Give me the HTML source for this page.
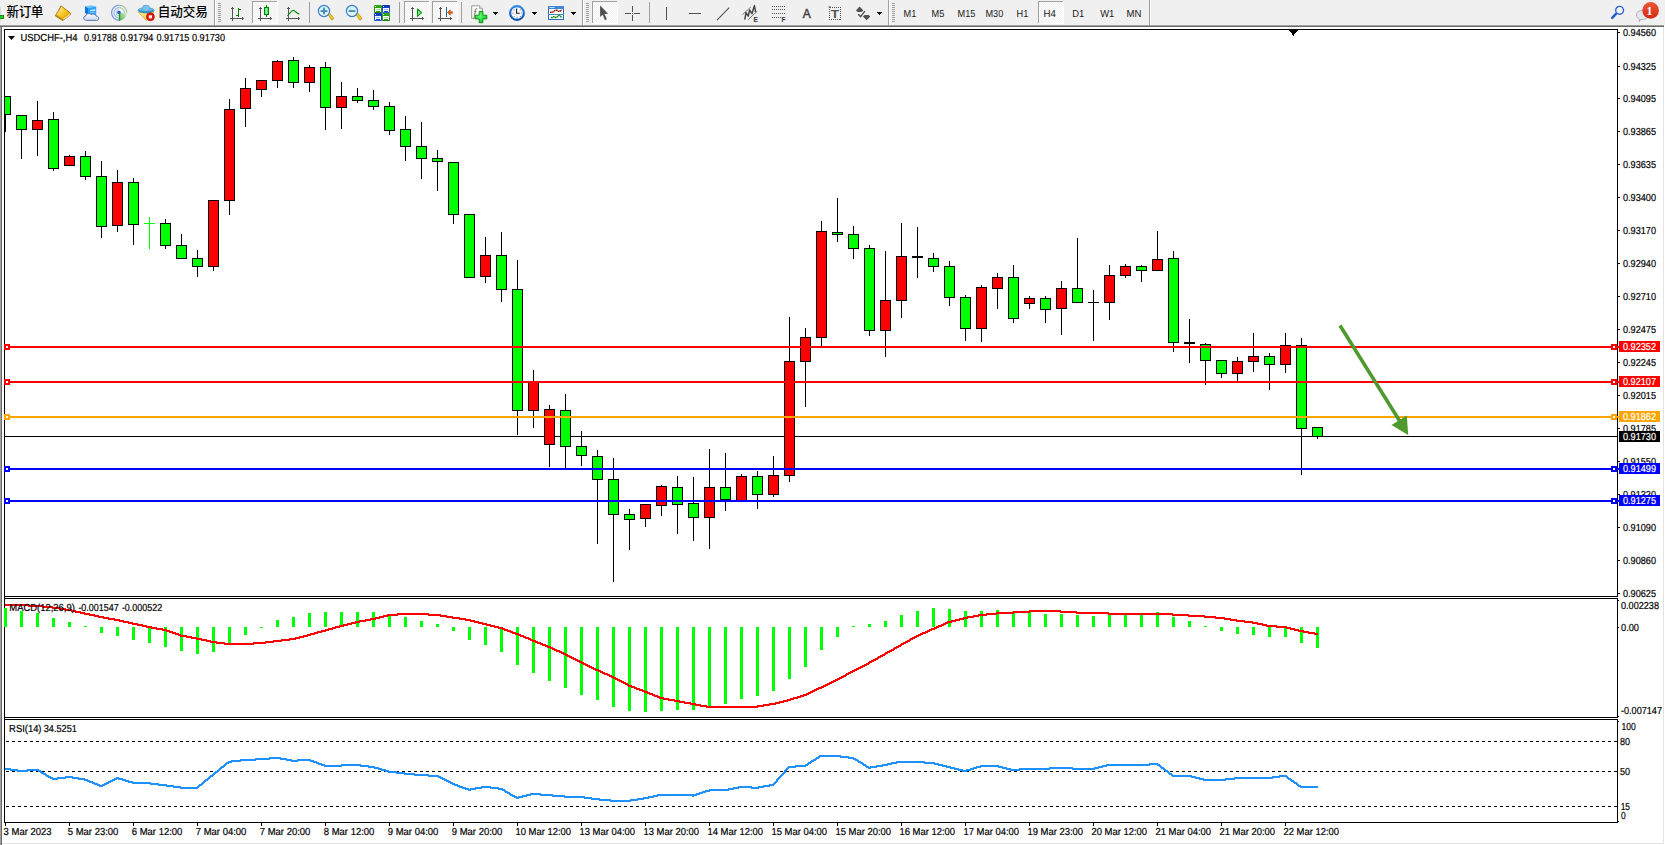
<!DOCTYPE html>
<html><head><meta charset="utf-8"><title>USDCHF-,H4</title>
<style>
html,body{margin:0;padding:0;background:#fff;}
body{width:1665px;height:845px;overflow:hidden;position:relative;font-family:"Liberation Sans","Noto Sans CJK SC",sans-serif;}
#tb{position:absolute;left:0;top:0;width:1665px;height:25px;background:#f0f0f0;}
svg{position:absolute;left:0;top:0;}
.t{font-family:"Liberation Sans",sans-serif;font-size:10.2px;fill:#000;stroke:#000;stroke-width:0.2px;text-rendering:geometricPrecision;}
.w{fill:#fff;stroke:#fff;}
.cj{font-family:"Liberation Sans","Noto Sans CJK SC",sans-serif;font-size:12.6px;font-weight:500;fill:#000;}
.tf{font-family:"Liberation Sans",sans-serif;font-size:10.2px;fill:#222;text-rendering:geometricPrecision;}
</style></head><body>
<div id="tb"></div>
<svg id="chart" width="1665" height="845" viewBox="0 0 1665 845">
<g shape-rendering="crispEdges">
<rect x="0" y="25" width="1664" height="1" fill="#a0a0a0"/>
<rect x="0" y="26" width="1664" height="1" fill="#696969"/>
<rect x="0" y="27" width="1" height="818" fill="#a0a0a0"/>
<rect x="1" y="27" width="1" height="818" fill="#696969"/>
<rect x="1663" y="27" width="1" height="817" fill="#e3e3e3"/>
<rect x="0" y="843" width="1664" height="1" fill="#e3e3e3"/>
<rect x="4" y="29" width="1614" height="1" fill="#000"/>
<rect x="4" y="29" width="1" height="794" fill="#000"/>
<rect x="1617" y="29" width="1" height="794" fill="#000"/>
<rect x="4" y="596" width="1614" height="1" fill="#000"/>
<rect x="4" y="598" width="1614" height="1" fill="#000"/>
<rect x="4" y="717" width="1614" height="1" fill="#000"/>
<rect x="4" y="719" width="1614" height="1" fill="#000"/>
<rect x="4" y="822" width="1614" height="1" fill="#000"/>
<rect x="5" y="597" width="1612" height="1" fill="#fff"/>
<rect x="5" y="718" width="1612" height="1" fill="#fff"/>
</g>
<polygon points="1288.4,30 1298.6,30 1293.5,35.6" fill="#000" shape-rendering="crispEdges"/>
<g shape-rendering="crispEdges">
<rect x="5" y="436" width="1612" height="1" fill="#000"/>
<rect x="5" y="96" width="1" height="36" fill="#000"/>
<rect x="0" y="96" width="11" height="19" fill="#000"/>
<rect x="1" y="97" width="9" height="17" fill="#00ff00"/>
<rect x="21" y="115" width="1" height="44" fill="#000"/>
<rect x="16" y="115" width="11" height="15" fill="#000"/>
<rect x="17" y="116" width="9" height="13" fill="#00ff00"/>
<rect x="37" y="101" width="1" height="55" fill="#000"/>
<rect x="32" y="120" width="11" height="10" fill="#000"/>
<rect x="33" y="121" width="9" height="8" fill="#ff0000"/>
<rect x="53" y="112" width="1" height="59" fill="#000"/>
<rect x="48" y="119" width="11" height="50" fill="#000"/>
<rect x="49" y="120" width="9" height="48" fill="#00ff00"/>
<rect x="69" y="155" width="1" height="11" fill="#000"/>
<rect x="64" y="156" width="11" height="10" fill="#000"/>
<rect x="65" y="157" width="9" height="8" fill="#ff0000"/>
<rect x="85" y="151" width="1" height="29" fill="#000"/>
<rect x="80" y="156" width="11" height="21" fill="#000"/>
<rect x="81" y="157" width="9" height="19" fill="#00ff00"/>
<rect x="101" y="161" width="1" height="77" fill="#000"/>
<rect x="96" y="176" width="11" height="51" fill="#000"/>
<rect x="97" y="177" width="9" height="49" fill="#00ff00"/>
<rect x="117" y="170" width="1" height="62" fill="#000"/>
<rect x="112" y="182" width="11" height="44" fill="#000"/>
<rect x="113" y="183" width="9" height="42" fill="#ff0000"/>
<rect x="133" y="178" width="1" height="67" fill="#000"/>
<rect x="128" y="182" width="11" height="43" fill="#000"/>
<rect x="129" y="183" width="9" height="41" fill="#00ff00"/>
<rect x="149" y="217" width="1" height="32" fill="#00ff00"/>
<rect x="144" y="223" width="11" height="1" fill="#00ff00"/>
<rect x="165" y="219" width="1" height="30" fill="#000"/>
<rect x="160" y="223" width="11" height="23" fill="#000"/>
<rect x="161" y="224" width="9" height="21" fill="#00ff00"/>
<rect x="181" y="234" width="1" height="25" fill="#000"/>
<rect x="176" y="245" width="11" height="14" fill="#000"/>
<rect x="177" y="246" width="9" height="12" fill="#00ff00"/>
<rect x="197" y="250" width="1" height="27" fill="#000"/>
<rect x="192" y="258" width="11" height="9" fill="#000"/>
<rect x="193" y="259" width="9" height="7" fill="#00ff00"/>
<rect x="213" y="200" width="1" height="71" fill="#000"/>
<rect x="208" y="200" width="11" height="67" fill="#000"/>
<rect x="209" y="201" width="9" height="65" fill="#ff0000"/>
<rect x="229" y="99" width="1" height="116" fill="#000"/>
<rect x="224" y="109" width="11" height="92" fill="#000"/>
<rect x="225" y="110" width="9" height="90" fill="#ff0000"/>
<rect x="245" y="78" width="1" height="49" fill="#000"/>
<rect x="240" y="88" width="11" height="21" fill="#000"/>
<rect x="241" y="89" width="9" height="19" fill="#ff0000"/>
<rect x="261" y="80" width="1" height="17" fill="#000"/>
<rect x="256" y="80" width="11" height="10" fill="#000"/>
<rect x="257" y="81" width="9" height="8" fill="#ff0000"/>
<rect x="277" y="60" width="1" height="28" fill="#000"/>
<rect x="272" y="61" width="11" height="20" fill="#000"/>
<rect x="273" y="62" width="9" height="18" fill="#ff0000"/>
<rect x="293" y="57" width="1" height="31" fill="#000"/>
<rect x="288" y="60" width="11" height="23" fill="#000"/>
<rect x="289" y="61" width="9" height="21" fill="#00ff00"/>
<rect x="309" y="65" width="1" height="27" fill="#000"/>
<rect x="304" y="67" width="11" height="16" fill="#000"/>
<rect x="305" y="68" width="9" height="14" fill="#ff0000"/>
<rect x="325" y="62" width="1" height="68" fill="#000"/>
<rect x="320" y="67" width="11" height="41" fill="#000"/>
<rect x="321" y="68" width="9" height="39" fill="#00ff00"/>
<rect x="341" y="82" width="1" height="47" fill="#000"/>
<rect x="336" y="96" width="11" height="12" fill="#000"/>
<rect x="337" y="97" width="9" height="10" fill="#ff0000"/>
<rect x="357" y="88" width="1" height="15" fill="#000"/>
<rect x="352" y="96" width="11" height="5" fill="#000"/>
<rect x="353" y="97" width="9" height="3" fill="#00ff00"/>
<rect x="373" y="90" width="1" height="20" fill="#000"/>
<rect x="368" y="100" width="11" height="7" fill="#000"/>
<rect x="369" y="101" width="9" height="5" fill="#00ff00"/>
<rect x="389" y="102" width="1" height="33" fill="#000"/>
<rect x="384" y="106" width="11" height="25" fill="#000"/>
<rect x="385" y="107" width="9" height="23" fill="#00ff00"/>
<rect x="405" y="116" width="1" height="45" fill="#000"/>
<rect x="400" y="129" width="11" height="18" fill="#000"/>
<rect x="401" y="130" width="9" height="16" fill="#00ff00"/>
<rect x="421" y="122" width="1" height="57" fill="#000"/>
<rect x="416" y="146" width="11" height="13" fill="#000"/>
<rect x="417" y="147" width="9" height="11" fill="#00ff00"/>
<rect x="437" y="150" width="1" height="41" fill="#000"/>
<rect x="432" y="158" width="11" height="4" fill="#000"/>
<rect x="433" y="159" width="9" height="2" fill="#00ff00"/>
<rect x="453" y="162" width="1" height="62" fill="#000"/>
<rect x="448" y="162" width="11" height="53" fill="#000"/>
<rect x="449" y="163" width="9" height="51" fill="#00ff00"/>
<rect x="469" y="214" width="1" height="64" fill="#000"/>
<rect x="464" y="214" width="11" height="64" fill="#000"/>
<rect x="465" y="215" width="9" height="62" fill="#00ff00"/>
<rect x="485" y="237" width="1" height="46" fill="#000"/>
<rect x="480" y="255" width="11" height="22" fill="#000"/>
<rect x="481" y="256" width="9" height="20" fill="#ff0000"/>
<rect x="501" y="232" width="1" height="70" fill="#000"/>
<rect x="496" y="255" width="11" height="35" fill="#000"/>
<rect x="497" y="256" width="9" height="33" fill="#00ff00"/>
<rect x="517" y="260" width="1" height="175" fill="#000"/>
<rect x="512" y="289" width="11" height="122" fill="#000"/>
<rect x="513" y="290" width="9" height="120" fill="#00ff00"/>
<rect x="533" y="370" width="1" height="58" fill="#000"/>
<rect x="528" y="381" width="11" height="30" fill="#000"/>
<rect x="529" y="382" width="9" height="28" fill="#ff0000"/>
<rect x="549" y="405" width="1" height="62" fill="#000"/>
<rect x="544" y="409" width="11" height="36" fill="#000"/>
<rect x="545" y="410" width="9" height="34" fill="#ff0000"/>
<rect x="565" y="394" width="1" height="74" fill="#000"/>
<rect x="560" y="410" width="11" height="37" fill="#000"/>
<rect x="561" y="411" width="9" height="35" fill="#00ff00"/>
<rect x="581" y="431" width="1" height="35" fill="#000"/>
<rect x="576" y="446" width="11" height="10" fill="#000"/>
<rect x="577" y="447" width="9" height="8" fill="#00ff00"/>
<rect x="597" y="450" width="1" height="94" fill="#000"/>
<rect x="592" y="456" width="11" height="24" fill="#000"/>
<rect x="593" y="457" width="9" height="22" fill="#00ff00"/>
<rect x="613" y="458" width="1" height="124" fill="#000"/>
<rect x="608" y="479" width="11" height="36" fill="#000"/>
<rect x="609" y="480" width="9" height="34" fill="#00ff00"/>
<rect x="629" y="509" width="1" height="41" fill="#000"/>
<rect x="624" y="514" width="11" height="6" fill="#000"/>
<rect x="625" y="515" width="9" height="4" fill="#00ff00"/>
<rect x="645" y="504" width="1" height="23" fill="#000"/>
<rect x="640" y="504" width="11" height="15" fill="#000"/>
<rect x="641" y="505" width="9" height="13" fill="#ff0000"/>
<rect x="661" y="485" width="1" height="31" fill="#000"/>
<rect x="656" y="486" width="11" height="20" fill="#000"/>
<rect x="657" y="487" width="9" height="18" fill="#ff0000"/>
<rect x="677" y="476" width="1" height="58" fill="#000"/>
<rect x="672" y="487" width="11" height="18" fill="#000"/>
<rect x="673" y="488" width="9" height="16" fill="#00ff00"/>
<rect x="693" y="477" width="1" height="64" fill="#000"/>
<rect x="688" y="503" width="11" height="15" fill="#000"/>
<rect x="689" y="504" width="9" height="13" fill="#00ff00"/>
<rect x="709" y="449" width="1" height="100" fill="#000"/>
<rect x="704" y="487" width="11" height="31" fill="#000"/>
<rect x="705" y="488" width="9" height="29" fill="#ff0000"/>
<rect x="725" y="453" width="1" height="58" fill="#000"/>
<rect x="720" y="487" width="11" height="13" fill="#000"/>
<rect x="721" y="488" width="9" height="11" fill="#00ff00"/>
<rect x="741" y="474" width="1" height="27" fill="#000"/>
<rect x="736" y="476" width="11" height="25" fill="#000"/>
<rect x="737" y="477" width="9" height="23" fill="#ff0000"/>
<rect x="757" y="471" width="1" height="38" fill="#000"/>
<rect x="752" y="476" width="11" height="19" fill="#000"/>
<rect x="753" y="477" width="9" height="17" fill="#00ff00"/>
<rect x="773" y="456" width="1" height="41" fill="#000"/>
<rect x="768" y="475" width="11" height="20" fill="#000"/>
<rect x="769" y="476" width="9" height="18" fill="#ff0000"/>
<rect x="789" y="317" width="1" height="165" fill="#000"/>
<rect x="784" y="361" width="11" height="115" fill="#000"/>
<rect x="785" y="362" width="9" height="113" fill="#ff0000"/>
<rect x="805" y="328" width="1" height="79" fill="#000"/>
<rect x="800" y="337" width="11" height="25" fill="#000"/>
<rect x="801" y="338" width="9" height="23" fill="#ff0000"/>
<rect x="821" y="221" width="1" height="125" fill="#000"/>
<rect x="816" y="231" width="11" height="107" fill="#000"/>
<rect x="817" y="232" width="9" height="105" fill="#ff0000"/>
<rect x="837" y="198" width="1" height="44" fill="#000"/>
<rect x="832" y="232" width="11" height="3" fill="#000"/>
<rect x="833" y="233" width="9" height="1" fill="#00ff00"/>
<rect x="853" y="226" width="1" height="33" fill="#000"/>
<rect x="848" y="234" width="11" height="15" fill="#000"/>
<rect x="849" y="235" width="9" height="13" fill="#00ff00"/>
<rect x="869" y="245" width="1" height="91" fill="#000"/>
<rect x="864" y="248" width="11" height="83" fill="#000"/>
<rect x="865" y="249" width="9" height="81" fill="#00ff00"/>
<rect x="885" y="251" width="1" height="106" fill="#000"/>
<rect x="880" y="300" width="11" height="31" fill="#000"/>
<rect x="881" y="301" width="9" height="29" fill="#ff0000"/>
<rect x="901" y="223" width="1" height="95" fill="#000"/>
<rect x="896" y="256" width="11" height="45" fill="#000"/>
<rect x="897" y="257" width="9" height="43" fill="#ff0000"/>
<rect x="917" y="227" width="1" height="51" fill="#000"/>
<rect x="912" y="256" width="11" height="2" fill="#000"/>
<rect x="933" y="253" width="1" height="19" fill="#000"/>
<rect x="928" y="258" width="11" height="9" fill="#000"/>
<rect x="929" y="259" width="9" height="7" fill="#00ff00"/>
<rect x="949" y="261" width="1" height="45" fill="#000"/>
<rect x="944" y="266" width="11" height="32" fill="#000"/>
<rect x="945" y="267" width="9" height="30" fill="#00ff00"/>
<rect x="965" y="295" width="1" height="46" fill="#000"/>
<rect x="960" y="297" width="11" height="32" fill="#000"/>
<rect x="961" y="298" width="9" height="30" fill="#00ff00"/>
<rect x="981" y="285" width="1" height="57" fill="#000"/>
<rect x="976" y="287" width="11" height="42" fill="#000"/>
<rect x="977" y="288" width="9" height="40" fill="#ff0000"/>
<rect x="997" y="273" width="1" height="36" fill="#000"/>
<rect x="992" y="277" width="11" height="12" fill="#000"/>
<rect x="993" y="278" width="9" height="10" fill="#ff0000"/>
<rect x="1013" y="265" width="1" height="58" fill="#000"/>
<rect x="1008" y="277" width="11" height="42" fill="#000"/>
<rect x="1009" y="278" width="9" height="40" fill="#00ff00"/>
<rect x="1029" y="296" width="1" height="13" fill="#000"/>
<rect x="1024" y="298" width="11" height="6" fill="#000"/>
<rect x="1025" y="299" width="9" height="4" fill="#ff0000"/>
<rect x="1045" y="296" width="1" height="27" fill="#000"/>
<rect x="1040" y="298" width="11" height="12" fill="#000"/>
<rect x="1041" y="299" width="9" height="10" fill="#00ff00"/>
<rect x="1061" y="281" width="1" height="54" fill="#000"/>
<rect x="1056" y="288" width="11" height="21" fill="#000"/>
<rect x="1057" y="289" width="9" height="19" fill="#ff0000"/>
<rect x="1077" y="238" width="1" height="65" fill="#000"/>
<rect x="1072" y="288" width="11" height="15" fill="#000"/>
<rect x="1073" y="289" width="9" height="13" fill="#00ff00"/>
<rect x="1093" y="290" width="1" height="51" fill="#000"/>
<rect x="1088" y="302" width="11" height="1" fill="#000"/>
<rect x="1109" y="265" width="1" height="55" fill="#000"/>
<rect x="1104" y="275" width="11" height="28" fill="#000"/>
<rect x="1105" y="276" width="9" height="26" fill="#ff0000"/>
<rect x="1125" y="264" width="1" height="14" fill="#000"/>
<rect x="1120" y="266" width="11" height="10" fill="#000"/>
<rect x="1121" y="267" width="9" height="8" fill="#ff0000"/>
<rect x="1141" y="265" width="1" height="17" fill="#000"/>
<rect x="1136" y="266" width="11" height="5" fill="#000"/>
<rect x="1137" y="267" width="9" height="3" fill="#00ff00"/>
<rect x="1157" y="231" width="1" height="40" fill="#000"/>
<rect x="1152" y="259" width="11" height="12" fill="#000"/>
<rect x="1153" y="260" width="9" height="10" fill="#ff0000"/>
<rect x="1173" y="251" width="1" height="101" fill="#000"/>
<rect x="1168" y="258" width="11" height="85" fill="#000"/>
<rect x="1169" y="259" width="9" height="83" fill="#00ff00"/>
<rect x="1189" y="319" width="1" height="44" fill="#000"/>
<rect x="1184" y="342" width="11" height="2" fill="#000"/>
<rect x="1205" y="343" width="1" height="42" fill="#000"/>
<rect x="1200" y="344" width="11" height="17" fill="#000"/>
<rect x="1201" y="345" width="9" height="15" fill="#00ff00"/>
<rect x="1221" y="360" width="1" height="18" fill="#000"/>
<rect x="1216" y="360" width="11" height="14" fill="#000"/>
<rect x="1217" y="361" width="9" height="12" fill="#00ff00"/>
<rect x="1237" y="357" width="1" height="24" fill="#000"/>
<rect x="1232" y="361" width="11" height="13" fill="#000"/>
<rect x="1233" y="362" width="9" height="11" fill="#ff0000"/>
<rect x="1253" y="333" width="1" height="39" fill="#000"/>
<rect x="1248" y="356" width="11" height="6" fill="#000"/>
<rect x="1249" y="357" width="9" height="4" fill="#ff0000"/>
<rect x="1269" y="353" width="1" height="37" fill="#000"/>
<rect x="1264" y="356" width="11" height="9" fill="#000"/>
<rect x="1265" y="357" width="9" height="7" fill="#00ff00"/>
<rect x="1285" y="333" width="1" height="40" fill="#000"/>
<rect x="1280" y="345" width="11" height="20" fill="#000"/>
<rect x="1281" y="346" width="9" height="18" fill="#ff0000"/>
<rect x="1301" y="338" width="1" height="137" fill="#000"/>
<rect x="1296" y="345" width="11" height="84" fill="#000"/>
<rect x="1297" y="346" width="9" height="82" fill="#00ff00"/>
<rect x="1317" y="427" width="1" height="12" fill="#000"/>
<rect x="1312" y="427" width="11" height="10" fill="#000"/>
<rect x="1313" y="428" width="9" height="8" fill="#00ff00"/>
</g>
<g shape-rendering="crispEdges">
<rect x="0" y="27" width="4" height="816" fill="#fff"/>
<rect x="0" y="27" width="1" height="818" fill="#a0a0a0"/>
<rect x="1" y="27" width="1" height="818" fill="#696969"/>
<rect x="4" y="29" width="1" height="794" fill="#000"/>
</g>
<g shape-rendering="crispEdges">
<rect x="4" y="346" width="1615" height="2" fill="#ff0000"/>
<rect x="4" y="344" width="6" height="6" fill="#ff0000"/>
<rect x="6" y="346" width="2" height="2" fill="#fff"/>
<rect x="1611" y="344" width="6" height="6" fill="#ff0000"/>
<rect x="1613" y="346" width="2" height="2" fill="#fff"/>
<rect x="4" y="381" width="1615" height="2" fill="#ff0000"/>
<rect x="4" y="379" width="6" height="6" fill="#ff0000"/>
<rect x="6" y="381" width="2" height="2" fill="#fff"/>
<rect x="1611" y="379" width="6" height="6" fill="#ff0000"/>
<rect x="1613" y="381" width="2" height="2" fill="#fff"/>
<rect x="4" y="416" width="1615" height="2" fill="#ffa500"/>
<rect x="4" y="414" width="6" height="6" fill="#ffa500"/>
<rect x="6" y="416" width="2" height="2" fill="#fff"/>
<rect x="1611" y="414" width="6" height="6" fill="#ffa500"/>
<rect x="1613" y="416" width="2" height="2" fill="#fff"/>
<rect x="4" y="468" width="1615" height="2" fill="#0000ff"/>
<rect x="4" y="466" width="6" height="6" fill="#0000ff"/>
<rect x="6" y="468" width="2" height="2" fill="#fff"/>
<rect x="1611" y="466" width="6" height="6" fill="#0000ff"/>
<rect x="1613" y="468" width="2" height="2" fill="#fff"/>
<rect x="4" y="500" width="1615" height="2" fill="#0000ff"/>
<rect x="4" y="498" width="6" height="6" fill="#0000ff"/>
<rect x="6" y="500" width="2" height="2" fill="#fff"/>
<rect x="1611" y="498" width="6" height="6" fill="#0000ff"/>
<rect x="1613" y="500" width="2" height="2" fill="#fff"/>
</g>
<g shape-rendering="crispEdges">
<rect x="4" y="608" width="3" height="19" fill="#00ff00"/>
<rect x="20" y="611" width="3" height="16" fill="#00ff00"/>
<rect x="36" y="613" width="3" height="14" fill="#00ff00"/>
<rect x="52" y="618" width="3" height="9" fill="#00ff00"/>
<rect x="68" y="622" width="3" height="5" fill="#00ff00"/>
<rect x="84" y="626" width="3" height="1" fill="#00ff00"/>
<rect x="100" y="627" width="3" height="6" fill="#00ff00"/>
<rect x="116" y="627" width="3" height="9" fill="#00ff00"/>
<rect x="132" y="627" width="3" height="13" fill="#00ff00"/>
<rect x="148" y="627" width="3" height="16" fill="#00ff00"/>
<rect x="164" y="627" width="3" height="20" fill="#00ff00"/>
<rect x="180" y="627" width="3" height="24" fill="#00ff00"/>
<rect x="196" y="627" width="3" height="27" fill="#00ff00"/>
<rect x="212" y="627" width="3" height="25" fill="#00ff00"/>
<rect x="228" y="627" width="3" height="16" fill="#00ff00"/>
<rect x="244" y="627" width="3" height="8" fill="#00ff00"/>
<rect x="260" y="627" width="3" height="1" fill="#00ff00"/>
<rect x="276" y="620" width="3" height="7" fill="#00ff00"/>
<rect x="292" y="617" width="3" height="10" fill="#00ff00"/>
<rect x="308" y="613" width="3" height="14" fill="#00ff00"/>
<rect x="324" y="612" width="3" height="15" fill="#00ff00"/>
<rect x="340" y="612" width="3" height="15" fill="#00ff00"/>
<rect x="356" y="612" width="3" height="15" fill="#00ff00"/>
<rect x="372" y="612" width="3" height="15" fill="#00ff00"/>
<rect x="388" y="614" width="3" height="13" fill="#00ff00"/>
<rect x="404" y="617" width="3" height="10" fill="#00ff00"/>
<rect x="420" y="621" width="3" height="6" fill="#00ff00"/>
<rect x="436" y="624" width="3" height="3" fill="#00ff00"/>
<rect x="452" y="627" width="3" height="4" fill="#00ff00"/>
<rect x="468" y="627" width="3" height="13" fill="#00ff00"/>
<rect x="484" y="627" width="3" height="18" fill="#00ff00"/>
<rect x="500" y="627" width="3" height="25" fill="#00ff00"/>
<rect x="516" y="627" width="3" height="38" fill="#00ff00"/>
<rect x="532" y="627" width="3" height="46" fill="#00ff00"/>
<rect x="548" y="627" width="3" height="54" fill="#00ff00"/>
<rect x="564" y="627" width="3" height="61" fill="#00ff00"/>
<rect x="580" y="627" width="3" height="68" fill="#00ff00"/>
<rect x="596" y="627" width="3" height="73" fill="#00ff00"/>
<rect x="612" y="627" width="3" height="80" fill="#00ff00"/>
<rect x="628" y="627" width="3" height="84" fill="#00ff00"/>
<rect x="644" y="627" width="3" height="85" fill="#00ff00"/>
<rect x="660" y="627" width="3" height="84" fill="#00ff00"/>
<rect x="676" y="627" width="3" height="83" fill="#00ff00"/>
<rect x="692" y="627" width="3" height="83" fill="#00ff00"/>
<rect x="708" y="627" width="3" height="80" fill="#00ff00"/>
<rect x="724" y="627" width="3" height="77" fill="#00ff00"/>
<rect x="740" y="627" width="3" height="72" fill="#00ff00"/>
<rect x="756" y="627" width="3" height="69" fill="#00ff00"/>
<rect x="772" y="627" width="3" height="64" fill="#00ff00"/>
<rect x="788" y="627" width="3" height="52" fill="#00ff00"/>
<rect x="804" y="627" width="3" height="40" fill="#00ff00"/>
<rect x="820" y="627" width="3" height="23" fill="#00ff00"/>
<rect x="836" y="627" width="3" height="10" fill="#00ff00"/>
<rect x="852" y="626" width="3" height="1" fill="#00ff00"/>
<rect x="868" y="624" width="3" height="3" fill="#00ff00"/>
<rect x="884" y="621" width="3" height="6" fill="#00ff00"/>
<rect x="900" y="615" width="3" height="12" fill="#00ff00"/>
<rect x="916" y="611" width="3" height="16" fill="#00ff00"/>
<rect x="932" y="608" width="3" height="19" fill="#00ff00"/>
<rect x="948" y="609" width="3" height="18" fill="#00ff00"/>
<rect x="964" y="611" width="3" height="16" fill="#00ff00"/>
<rect x="980" y="611" width="3" height="16" fill="#00ff00"/>
<rect x="996" y="610" width="3" height="17" fill="#00ff00"/>
<rect x="1012" y="611" width="3" height="16" fill="#00ff00"/>
<rect x="1028" y="612" width="3" height="15" fill="#00ff00"/>
<rect x="1044" y="614" width="3" height="13" fill="#00ff00"/>
<rect x="1060" y="614" width="3" height="13" fill="#00ff00"/>
<rect x="1076" y="615" width="3" height="12" fill="#00ff00"/>
<rect x="1092" y="616" width="3" height="11" fill="#00ff00"/>
<rect x="1108" y="614" width="3" height="13" fill="#00ff00"/>
<rect x="1124" y="614" width="3" height="13" fill="#00ff00"/>
<rect x="1140" y="614" width="3" height="13" fill="#00ff00"/>
<rect x="1156" y="612" width="3" height="15" fill="#00ff00"/>
<rect x="1172" y="617" width="3" height="10" fill="#00ff00"/>
<rect x="1188" y="621" width="3" height="6" fill="#00ff00"/>
<rect x="1204" y="626" width="3" height="1" fill="#00ff00"/>
<rect x="1220" y="627" width="3" height="4" fill="#00ff00"/>
<rect x="1236" y="627" width="3" height="7" fill="#00ff00"/>
<rect x="1252" y="627" width="3" height="8" fill="#00ff00"/>
<rect x="1268" y="627" width="3" height="10" fill="#00ff00"/>
<rect x="1284" y="627" width="3" height="10" fill="#00ff00"/>
<rect x="1300" y="627" width="3" height="16" fill="#00ff00"/>
<rect x="1316" y="627" width="3" height="21" fill="#00ff00"/>
</g>
<path d="M5 604h24v1h-24zM5 605h38v1h-38zM28 606h25v1h-25zM42 607h18v1h-18zM52 608h14v1h-14zM59 609h13v1h-13zM65 610h11v1h-11zM1029 610h32v1h-32zM71 611h10v1h-10zM1013 611h64v1h-64zM75 612h10v1h-10zM996 612h34v1h-34zM1060 612h49v1h-49zM80 613h10v1h-10zM397 613h32v1h-32zM986 613h28v1h-28zM1076 613h97v1h-97zM84 614h11v1h-11zM387 614h54v1h-54zM978 614h19v1h-19zM1108 614h81v1h-81zM89 615h10v1h-10zM383 615h15v1h-15zM428 615h19v1h-19zM973 615h14v1h-14zM1172 615h33v1h-33zM94 616h10v1h-10zM379 616h9v1h-9zM440 616h13v1h-13zM967 616h12v1h-12zM1188 616h28v1h-28zM98 617h11v1h-11zM375 617h9v1h-9zM446 617h14v1h-14zM963 617h11v1h-11zM1204 617h21v1h-21zM103 618h12v1h-12zM370 618h10v1h-10zM452 618h14v1h-14zM959 618h9v1h-9zM1215 618h16v1h-16zM108 619h12v1h-12zM365 619h11v1h-11zM459 619h12v1h-12zM955 619h9v1h-9zM1224 619h13v1h-13zM114 620h10v1h-10zM359 620h12v1h-12zM465 620h10v1h-10zM951 620h9v1h-9zM1230 620h15v1h-15zM119 621h10v1h-10zM355 621h11v1h-11zM470 621h9v1h-9zM947 621h9v1h-9zM1236 621h17v1h-17zM123 622h10v1h-10zM351 622h9v1h-9zM474 622h9v1h-9zM945 622h7v1h-7zM1244 622h14v1h-14zM128 623h10v1h-10zM347 623h9v1h-9zM478 623h9v1h-9zM943 623h5v1h-5zM1252 623h11v1h-11zM132 624h11v1h-11zM343 624h9v1h-9zM482 624h9v1h-9zM941 624h5v1h-5zM1257 624h10v1h-10zM137 625h10v1h-10zM339 625h9v1h-9zM486 625h9v1h-9zM938 625h6v1h-6zM1262 625h15v1h-15zM142 626h10v1h-10zM335 626h9v1h-9zM490 626h9v1h-9zM936 626h6v1h-6zM1266 626h21v1h-21zM146 627h11v1h-11zM332 627h8v1h-8zM494 627h9v1h-9zM934 627h5v1h-5zM1276 627h15v1h-15zM151 628h12v1h-12zM328 628h8v1h-8zM498 628h7v1h-7zM931 628h6v1h-6zM1286 628h9v1h-9zM156 629h11v1h-11zM325 629h8v1h-8zM502 629h6v1h-6zM929 629h6v1h-6zM1290 629h9v1h-9zM162 630h8v1h-8zM321 630h8v1h-8zM504 630h7v1h-7zM927 630h5v1h-5zM1294 630h10v1h-10zM166 631h7v1h-7zM317 631h9v1h-9zM507 631h6v1h-6zM925 631h5v1h-5zM1298 631h11v1h-11zM169 632h7v1h-7zM314 632h8v1h-8zM510 632h6v1h-6zM922 632h6v1h-6zM1303 632h12v1h-12zM172 633h7v1h-7zM310 633h8v1h-8zM512 633h7v1h-7zM920 633h6v1h-6zM1308 633h10v1h-10zM175 634h6v1h-6zM307 634h8v1h-8zM515 634h6v1h-6zM918 634h5v1h-5zM1314 634h4v1h-4zM178 635h9v1h-9zM303 635h8v1h-8zM518 635h6v1h-6zM916 635h5v1h-5zM180 636h12v1h-12zM299 636h9v1h-9zM520 636h6v1h-6zM914 636h5v1h-5zM186 637h11v1h-11zM295 637h9v1h-9zM523 637h6v1h-6zM912 637h5v1h-5zM191 638h11v1h-11zM289 638h11v1h-11zM525 638h6v1h-6zM910 638h5v1h-5zM196 639h11v1h-11zM281 639h15v1h-15zM528 639h5v1h-5zM909 639h4v1h-4zM201 640h10v1h-10zM273 640h17v1h-17zM530 640h6v1h-6zM907 640h4v1h-4zM206 641h11v1h-11zM265 641h17v1h-17zM532 641h6v1h-6zM905 641h5v1h-5zM210 642h15v1h-15zM253 642h21v1h-21zM535 642h6v1h-6zM903 642h5v1h-5zM216 643h50v1h-50zM537 643h6v1h-6zM901 643h5v1h-5zM224 644h30v1h-30zM540 644h6v1h-6zM900 644h4v1h-4zM542 645h6v1h-6zM898 645h4v1h-4zM545 646h6v1h-6zM896 646h5v1h-5zM547 647h6v1h-6zM894 647h5v1h-5zM550 648h5v1h-5zM893 648h4v1h-4zM552 649h5v1h-5zM891 649h4v1h-4zM554 650h6v1h-6zM889 650h5v1h-5zM556 651h6v1h-6zM887 651h5v1h-5zM559 652h5v1h-5zM885 652h5v1h-5zM561 653h5v1h-5zM884 653h4v1h-4zM563 654h5v1h-5zM882 654h4v1h-4zM565 655h5v1h-5zM880 655h5v1h-5zM567 656h5v1h-5zM878 656h5v1h-5zM569 657h5v1h-5zM877 657h4v1h-4zM571 658h5v1h-5zM875 658h4v1h-4zM573 659h5v1h-5zM873 659h5v1h-5zM575 660h5v1h-5zM871 660h5v1h-5zM577 661h5v1h-5zM869 661h5v1h-5zM579 662h5v1h-5zM868 662h4v1h-4zM581 663h5v1h-5zM866 663h4v1h-4zM583 664h5v1h-5zM864 664h5v1h-5zM585 665h5v1h-5zM862 665h5v1h-5zM587 666h5v1h-5zM860 666h5v1h-5zM589 667h5v1h-5zM858 667h5v1h-5zM591 668h5v1h-5zM856 668h5v1h-5zM593 669h6v1h-6zM854 669h5v1h-5zM595 670h6v1h-6zM852 670h5v1h-5zM598 671h5v1h-5zM850 671h5v1h-5zM600 672h5v1h-5zM848 672h5v1h-5zM602 673h6v1h-6zM846 673h5v1h-5zM604 674h6v1h-6zM845 674h4v1h-4zM607 675h5v1h-5zM843 675h4v1h-4zM609 676h5v1h-5zM841 676h5v1h-5zM611 677h5v1h-5zM839 677h5v1h-5zM613 678h5v1h-5zM837 678h5v1h-5zM615 679h5v1h-5zM835 679h5v1h-5zM617 680h5v1h-5zM833 680h5v1h-5zM619 681h5v1h-5zM831 681h5v1h-5zM621 682h5v1h-5zM829 682h5v1h-5zM623 683h5v1h-5zM827 683h5v1h-5zM625 684h4v1h-4zM825 684h5v1h-5zM627 685h5v1h-5zM823 685h5v1h-5zM628 686h7v1h-7zM821 686h5v1h-5zM631 687h6v1h-6zM818 687h6v1h-6zM634 688h6v1h-6zM816 688h6v1h-6zM636 689h7v1h-7zM814 689h5v1h-5zM639 690h6v1h-6zM812 690h5v1h-5zM642 691h6v1h-6zM810 691h5v1h-5zM644 692h6v1h-6zM808 692h5v1h-5zM647 693h6v1h-6zM806 693h5v1h-5zM649 694h6v1h-6zM803 694h6v1h-6zM652 695h6v1h-6zM800 695h7v1h-7zM654 696h6v1h-6zM797 696h7v1h-7zM657 697h7v1h-7zM793 697h8v1h-8zM659 698h10v1h-10zM790 698h8v1h-8zM663 699h12v1h-12zM787 699h7v1h-7zM668 700h12v1h-12zM783 700h8v1h-8zM674 701h11v1h-11zM779 701h9v1h-9zM679 702h12v1h-12zM775 702h9v1h-9zM684 703h12v1h-12zM769 703h11v1h-11zM690 704h11v1h-11zM763 704h13v1h-13zM695 705h12v1h-12zM757 705h13v1h-13zM700 706h64v1h-64zM706 707h52v1h-52z" fill="#ff0000" shape-rendering="crispEdges"/>
<g shape-rendering="crispEdges">
<line x1="6" y1="741.5" x2="1617" y2="741.5" stroke="#000" stroke-width="1" stroke-dasharray="3 3"/>
<line x1="6" y1="771.5" x2="1617" y2="771.5" stroke="#000" stroke-width="1" stroke-dasharray="3 3"/>
<line x1="6" y1="806.5" x2="1617" y2="806.5" stroke="#000" stroke-width="1" stroke-dasharray="3 3"/>
</g>
<path d="M819 755h22v1h-22zM818 756h31v1h-31zM269 757h12v1h-12zM816 757h4v1h-4zM840 757h14v1h-14zM255 758h32v1h-32zM815 758h4v1h-4zM848 758h8v1h-8zM240 759h30v1h-30zM280 759h12v1h-12zM297 759h14v1h-14zM813 759h4v1h-4zM853 759h5v1h-5zM231 760h25v1h-25zM286 760h28v1h-28zM811 760h5v1h-5zM855 760h4v1h-4zM228 761h13v1h-13zM291 761h7v1h-7zM310 761h7v1h-7zM810 761h4v1h-4zM857 761h4v1h-4zM896 761h29v1h-29zM226 762h6v1h-6zM313 762h6v1h-6zM808 762h4v1h-4zM858 762h5v1h-5zM891 762h44v1h-44zM225 763h4v1h-4zM316 763h6v1h-6zM807 763h4v1h-4zM860 763h4v1h-4zM887 763h10v1h-10zM924 763h15v1h-15zM1149 763h9v1h-9zM224 764h3v1h-3zM318 764h7v1h-7zM341 764h20v1h-20zM805 764h4v1h-4zM862 764h4v1h-4zM882 764h10v1h-10zM934 764h9v1h-9zM1106 764h54v1h-54zM223 765h3v1h-3zM321 765h48v1h-48zM795 765h13v1h-13zM863 765h4v1h-4zM876 765h12v1h-12zM938 765h9v1h-9zM980 765h19v1h-19zM1102 765h48v1h-48zM1157 765h4v1h-4zM221 766h4v1h-4zM324 766h18v1h-18zM360 766h15v1h-15zM788 766h18v1h-18zM865 766h4v1h-4zM870 766h13v1h-13zM942 766h9v1h-9zM976 766h27v1h-27zM1098 766h9v1h-9zM1159 766h3v1h-3zM220 767h4v1h-4zM368 767h11v1h-11zM787 767h9v1h-9zM866 767h11v1h-11zM946 767h9v1h-9zM973 767h8v1h-8zM998 767h9v1h-9zM1049 767h24v1h-24zM1094 767h9v1h-9zM1160 767h4v1h-4zM5 768h6v1h-6zM219 768h3v1h-3zM374 768h8v1h-8zM786 768h3v1h-3zM868 768h3v1h-3zM950 768h9v1h-9zM970 768h7v1h-7zM1002 768h9v1h-9zM1019 768h80v1h-80zM1161 768h4v1h-4zM5 769h13v1h-13zM27 769h12v1h-12zM218 769h3v1h-3zM378 769h8v1h-8zM785 769h3v1h-3zM954 769h9v1h-9zM966 769h8v1h-8zM1006 769h44v1h-44zM1072 769h23v1h-23zM1163 769h3v1h-3zM10 770h31v1h-31zM217 770h3v1h-3zM381 770h8v1h-8zM784 770h3v1h-3zM958 770h13v1h-13zM1010 770h10v1h-10zM1164 770h4v1h-4zM17 771h11v1h-11zM38 771h4v1h-4zM215 771h4v1h-4zM385 771h12v1h-12zM784 771h2v1h-2zM962 771h5v1h-5zM1165 771h4v1h-4zM40 772h4v1h-4zM214 772h4v1h-4zM388 772h17v1h-17zM783 772h3v1h-3zM1167 772h3v1h-3zM41 773h5v1h-5zM213 773h3v1h-3zM396 773h19v1h-19zM782 773h3v1h-3zM1168 773h4v1h-4zM43 774h4v1h-4zM212 774h3v1h-3zM404 774h25v1h-25zM781 774h3v1h-3zM1169 774h4v1h-4zM45 775h4v1h-4zM210 775h4v1h-4zM414 775h25v1h-25zM780 775h3v1h-3zM1171 775h21v1h-21zM1279 775h8v1h-8zM46 776h5v1h-5zM65 776h8v1h-8zM209 776h4v1h-4zM428 776h13v1h-13zM779 776h3v1h-3zM1172 776h24v1h-24zM1272 776h16v1h-16zM48 777h5v1h-5zM57 777h22v1h-22zM116 777h3v1h-3zM208 777h3v1h-3zM438 777h5v1h-5zM778 777h3v1h-3zM1191 777h9v1h-9zM1234 777h46v1h-46zM1286 777h3v1h-3zM50 778h16v1h-16zM72 778h13v1h-13zM114 778h9v1h-9zM207 778h3v1h-3zM440 778h5v1h-5zM777 778h3v1h-3zM1195 778h9v1h-9zM1225 778h48v1h-48zM1287 778h4v1h-4zM52 779h6v1h-6zM78 779h10v1h-10zM112 779h5v1h-5zM118 779h8v1h-8zM205 779h4v1h-4zM442 779h5v1h-5zM776 779h3v1h-3zM1199 779h36v1h-36zM1288 779h4v1h-4zM84 780h6v1h-6zM110 780h5v1h-5zM122 780h7v1h-7zM204 780h4v1h-4zM444 780h5v1h-5zM776 780h2v1h-2zM1203 780h23v1h-23zM1290 780h4v1h-4zM87 781h6v1h-6zM108 781h5v1h-5zM125 781h8v1h-8zM203 781h3v1h-3zM446 781h5v1h-5zM775 781h3v1h-3zM1291 781h4v1h-4zM89 782h6v1h-6zM106 782h5v1h-5zM128 782h23v1h-23zM202 782h3v1h-3zM448 782h5v1h-5zM774 782h3v1h-3zM1293 782h4v1h-4zM92 783h6v1h-6zM104 783h5v1h-5zM132 783h27v1h-27zM201 783h3v1h-3zM450 783h5v1h-5zM773 783h3v1h-3zM1294 783h4v1h-4zM94 784h6v1h-6zM102 784h5v1h-5zM150 784h17v1h-17zM199 784h4v1h-4zM452 784h6v1h-6zM769 784h6v1h-6zM1296 784h3v1h-3zM97 785h8v1h-8zM158 785h16v1h-16zM198 785h4v1h-4zM454 785h6v1h-6zM763 785h11v1h-11zM1297 785h4v1h-4zM99 786h4v1h-4zM166 786h15v1h-15zM197 786h3v1h-3zM457 786h6v1h-6zM481 786h10v1h-10zM738 786h14v1h-14zM758 786h12v1h-12zM1298 786h20v1h-20zM173 787h26v1h-26zM459 787h7v1h-7zM475 787h24v1h-24zM733 787h31v1h-31zM1300 787h18v1h-18zM180 788h18v1h-18zM462 788h7v1h-7zM470 788h12v1h-12zM490 788h13v1h-13zM728 788h11v1h-11zM751 788h8v1h-8zM465 789h11v1h-11zM498 789h7v1h-7zM709 789h25v1h-25zM468 790h3v1h-3zM502 790h4v1h-4zM705 790h24v1h-24zM504 791h4v1h-4zM702 791h8v1h-8zM505 792h5v1h-5zM699 792h7v1h-7zM507 793h4v1h-4zM530 793h11v1h-11zM696 793h7v1h-7zM509 794h4v1h-4zM526 794h27v1h-27zM657 794h43v1h-43zM510 795h5v1h-5zM522 795h9v1h-9zM540 795h25v1h-25zM653 795h44v1h-44zM512 796h5v1h-5zM518 796h9v1h-9zM552 796h33v1h-33zM648 796h10v1h-10zM692 796h2v1h-2zM514 797h9v1h-9zM564 797h28v1h-28zM643 797h11v1h-11zM516 798h3v1h-3zM584 798h16v1h-16zM637 798h12v1h-12zM591 799h20v1h-20zM630 799h14v1h-14zM599 800h39v1h-39zM610 801h21v1h-21z" fill="#1e90ff" shape-rendering="crispEdges"/>
<g shape-rendering="crispEdges">
<rect x="1618" y="32" width="2" height="1" fill="#000"/>
<rect x="1618" y="66" width="2" height="1" fill="#000"/>
<rect x="1618" y="98" width="2" height="1" fill="#000"/>
<rect x="1618" y="131" width="2" height="1" fill="#000"/>
<rect x="1618" y="164" width="2" height="1" fill="#000"/>
<rect x="1618" y="197" width="2" height="1" fill="#000"/>
<rect x="1618" y="230" width="2" height="1" fill="#000"/>
<rect x="1618" y="263" width="2" height="1" fill="#000"/>
<rect x="1618" y="296" width="2" height="1" fill="#000"/>
<rect x="1618" y="329" width="2" height="1" fill="#000"/>
<rect x="1618" y="362" width="2" height="1" fill="#000"/>
<rect x="1618" y="395" width="2" height="1" fill="#000"/>
<rect x="1618" y="428" width="2" height="1" fill="#000"/>
<rect x="1618" y="461" width="2" height="1" fill="#000"/>
<rect x="1618" y="494" width="2" height="1" fill="#000"/>
<rect x="1618" y="527" width="2" height="1" fill="#000"/>
<rect x="1618" y="560" width="2" height="1" fill="#000"/>
<rect x="1618" y="593" width="2" height="1" fill="#000"/>
<rect x="1618" y="600" width="1" height="1" fill="#000"/>
<rect x="1618" y="627" width="1" height="1" fill="#000"/>
<rect x="1618" y="716" width="1" height="1" fill="#000"/>
<rect x="1618" y="721" width="1" height="1" fill="#000"/>
<rect x="1618" y="821" width="1" height="1" fill="#000"/>
<rect x="1617" y="597" width="1" height="1" fill="#fff"/>
<rect x="1617" y="718" width="1" height="1" fill="#fff"/>
</g>
<text class="t" x="1623" y="36" textLength="33" lengthAdjust="spacingAndGlyphs">0.94560</text>
<text class="t" x="1623" y="70" textLength="33" lengthAdjust="spacingAndGlyphs">0.94325</text>
<text class="t" x="1623" y="102" textLength="33" lengthAdjust="spacingAndGlyphs">0.94095</text>
<text class="t" x="1623" y="135" textLength="33" lengthAdjust="spacingAndGlyphs">0.93865</text>
<text class="t" x="1623" y="168" textLength="33" lengthAdjust="spacingAndGlyphs">0.93635</text>
<text class="t" x="1623" y="201" textLength="33" lengthAdjust="spacingAndGlyphs">0.93400</text>
<text class="t" x="1623" y="234" textLength="33" lengthAdjust="spacingAndGlyphs">0.93170</text>
<text class="t" x="1623" y="267" textLength="33" lengthAdjust="spacingAndGlyphs">0.92940</text>
<text class="t" x="1623" y="300" textLength="33" lengthAdjust="spacingAndGlyphs">0.92710</text>
<text class="t" x="1623" y="333" textLength="33" lengthAdjust="spacingAndGlyphs">0.92475</text>
<text class="t" x="1623" y="366" textLength="33" lengthAdjust="spacingAndGlyphs">0.92245</text>
<text class="t" x="1623" y="399" textLength="33" lengthAdjust="spacingAndGlyphs">0.92015</text>
<text class="t" x="1623" y="432" textLength="33" lengthAdjust="spacingAndGlyphs">0.91785</text>
<text class="t" x="1623" y="465" textLength="33" lengthAdjust="spacingAndGlyphs">0.91550</text>
<text class="t" x="1623" y="498" textLength="33" lengthAdjust="spacingAndGlyphs">0.91320</text>
<text class="t" x="1623" y="531" textLength="33" lengthAdjust="spacingAndGlyphs">0.91090</text>
<text class="t" x="1623" y="564" textLength="33" lengthAdjust="spacingAndGlyphs">0.90860</text>
<text class="t" x="1623" y="597" textLength="33" lengthAdjust="spacingAndGlyphs">0.90625</text>
<g shape-rendering="crispEdges">
<rect x="1619" y="341" width="41" height="11" fill="#ff0000"/>
<rect x="1619" y="376" width="41" height="11" fill="#ff0000"/>
<rect x="1619" y="411" width="41" height="11" fill="#ffa500"/>
<rect x="1619" y="463" width="41" height="11" fill="#0000ff"/>
<rect x="1619" y="495" width="41" height="11" fill="#0000ff"/>
<rect x="1619" y="431" width="41" height="11" fill="#000"/>
</g>
<text class="t w" x="1623" y="350" textLength="33" lengthAdjust="spacingAndGlyphs">0.92352</text>
<text class="t w" x="1623" y="385" textLength="33" lengthAdjust="spacingAndGlyphs">0.92107</text>
<text class="t w" x="1623" y="420" textLength="33" lengthAdjust="spacingAndGlyphs">0.91862</text>
<text class="t w" x="1623" y="472" textLength="33" lengthAdjust="spacingAndGlyphs">0.91499</text>
<text class="t w" x="1623" y="504" textLength="33" lengthAdjust="spacingAndGlyphs">0.91275</text>
<text class="t w" x="1623" y="440" textLength="33" lengthAdjust="spacingAndGlyphs">0.91730</text>
<text class="t" x="1621" y="609" textLength="38" lengthAdjust="spacingAndGlyphs">0.002238</text>
<text class="t" x="1621" y="631" textLength="18" lengthAdjust="spacingAndGlyphs">0.00</text>
<text class="t" x="1621" y="714" textLength="41" lengthAdjust="spacingAndGlyphs">-0.007147</text>
<text class="t" x="1621.6" y="730" textLength="14.2" lengthAdjust="spacingAndGlyphs">100</text>
<text class="t" x="1620" y="745" textLength="10" lengthAdjust="spacingAndGlyphs">80</text>
<text class="t" x="1620" y="775" textLength="10" lengthAdjust="spacingAndGlyphs">50</text>
<text class="t" x="1620.7" y="810" textLength="9.3" lengthAdjust="spacingAndGlyphs">15</text>
<text class="t" x="1621" y="819" textLength="4.7" lengthAdjust="spacingAndGlyphs">0</text>
<polygon points="8,36 15,36 11.5,40" fill="#000"/>
<text class="t" x="20.5" y="41" textLength="57" lengthAdjust="spacingAndGlyphs">USDCHF-,H4</text>
<text class="t" x="84" y="41" textLength="33" lengthAdjust="spacingAndGlyphs">0.91788</text>
<text class="t" x="120.4" y="41" textLength="33" lengthAdjust="spacingAndGlyphs">0.91794</text>
<text class="t" x="156.4" y="41" textLength="33" lengthAdjust="spacingAndGlyphs">0.91715</text>
<text class="t" x="192" y="41" textLength="33" lengthAdjust="spacingAndGlyphs">0.91730</text>
<text class="t" x="9.3" y="611" textLength="65.6" lengthAdjust="spacingAndGlyphs">MACD(12,26,9)</text>
<text class="t" x="78.4" y="611" textLength="40.3" lengthAdjust="spacingAndGlyphs">-0.001547</text>
<text class="t" x="121.9" y="611" textLength="40.3" lengthAdjust="spacingAndGlyphs">-0.000522</text>
<text class="t" x="9.1" y="732" textLength="32.4" lengthAdjust="spacingAndGlyphs">RSI(14)</text>
<text class="t" x="43.7" y="732" textLength="33.2" lengthAdjust="spacingAndGlyphs">34.5251</text>
<g shape-rendering="crispEdges">
<rect x="5" y="823" width="1" height="3" fill="#000"/>
<rect x="69" y="823" width="1" height="3" fill="#000"/>
<rect x="133" y="823" width="1" height="3" fill="#000"/>
<rect x="197" y="823" width="1" height="3" fill="#000"/>
<rect x="261" y="823" width="1" height="3" fill="#000"/>
<rect x="325" y="823" width="1" height="3" fill="#000"/>
<rect x="389" y="823" width="1" height="3" fill="#000"/>
<rect x="453" y="823" width="1" height="3" fill="#000"/>
<rect x="517" y="823" width="1" height="3" fill="#000"/>
<rect x="581" y="823" width="1" height="3" fill="#000"/>
<rect x="645" y="823" width="1" height="3" fill="#000"/>
<rect x="709" y="823" width="1" height="3" fill="#000"/>
<rect x="773" y="823" width="1" height="3" fill="#000"/>
<rect x="837" y="823" width="1" height="3" fill="#000"/>
<rect x="901" y="823" width="1" height="3" fill="#000"/>
<rect x="965" y="823" width="1" height="3" fill="#000"/>
<rect x="1029" y="823" width="1" height="3" fill="#000"/>
<rect x="1093" y="823" width="1" height="3" fill="#000"/>
<rect x="1157" y="823" width="1" height="3" fill="#000"/>
<rect x="1221" y="823" width="1" height="3" fill="#000"/>
<rect x="1285" y="823" width="1" height="3" fill="#000"/>
</g>
<text class="t" x="3.6" y="835" textLength="47.9" lengthAdjust="spacingAndGlyphs">3 Mar 2023</text>
<text class="t" x="67.8" y="835" textLength="50.6" lengthAdjust="spacingAndGlyphs">5 Mar 23:00</text>
<text class="t" x="131.8" y="835" textLength="50.6" lengthAdjust="spacingAndGlyphs">6 Mar 12:00</text>
<text class="t" x="195.8" y="835" textLength="50.6" lengthAdjust="spacingAndGlyphs">7 Mar 04:00</text>
<text class="t" x="259.8" y="835" textLength="50.6" lengthAdjust="spacingAndGlyphs">7 Mar 20:00</text>
<text class="t" x="323.8" y="835" textLength="50.6" lengthAdjust="spacingAndGlyphs">8 Mar 12:00</text>
<text class="t" x="387.8" y="835" textLength="50.6" lengthAdjust="spacingAndGlyphs">9 Mar 04:00</text>
<text class="t" x="451.8" y="835" textLength="50.6" lengthAdjust="spacingAndGlyphs">9 Mar 20:00</text>
<text class="t" x="515.5" y="835" textLength="55.6" lengthAdjust="spacingAndGlyphs">10 Mar 12:00</text>
<text class="t" x="579.5" y="835" textLength="55.6" lengthAdjust="spacingAndGlyphs">13 Mar 04:00</text>
<text class="t" x="643.5" y="835" textLength="55.6" lengthAdjust="spacingAndGlyphs">13 Mar 20:00</text>
<text class="t" x="707.5" y="835" textLength="55.6" lengthAdjust="spacingAndGlyphs">14 Mar 12:00</text>
<text class="t" x="771.5" y="835" textLength="55.6" lengthAdjust="spacingAndGlyphs">15 Mar 04:00</text>
<text class="t" x="835.5" y="835" textLength="55.6" lengthAdjust="spacingAndGlyphs">15 Mar 20:00</text>
<text class="t" x="899.5" y="835" textLength="55.6" lengthAdjust="spacingAndGlyphs">16 Mar 12:00</text>
<text class="t" x="963.5" y="835" textLength="55.6" lengthAdjust="spacingAndGlyphs">17 Mar 04:00</text>
<text class="t" x="1027.5" y="835" textLength="55.6" lengthAdjust="spacingAndGlyphs">19 Mar 23:00</text>
<text class="t" x="1091.5" y="835" textLength="55.6" lengthAdjust="spacingAndGlyphs">20 Mar 12:00</text>
<text class="t" x="1155.5" y="835" textLength="55.6" lengthAdjust="spacingAndGlyphs">21 Mar 04:00</text>
<text class="t" x="1219.5" y="835" textLength="55.6" lengthAdjust="spacingAndGlyphs">21 Mar 20:00</text>
<text class="t" x="1283.5" y="835" textLength="55.6" lengthAdjust="spacingAndGlyphs">22 Mar 12:00</text>
<line x1="1340" y1="325.5" x2="1400" y2="421.5" stroke="#4e9a2e" stroke-width="3.6"/>
<polygon points="1408.2,435 1391.5,425 1406.8,415.5" fill="#4e9a2e"/>
</svg>
<svg id="toolbar" width="1665" height="25" viewBox="0 0 1665 25">
<defs>
<pattern id="dith" width="2" height="2" patternUnits="userSpaceOnUse"><rect width="2" height="2" fill="#f0f0f0"/><rect x="0" y="0" width="1" height="1" fill="#fff"/><rect x="1" y="1" width="1" height="1" fill="#fff"/></pattern>
<linearGradient id="gold" x1="0" y1="0" x2="1" y2="1"><stop offset="0" stop-color="#fbe36a"/><stop offset="0.5" stop-color="#f0bd18"/><stop offset="1" stop-color="#d9950c"/></linearGradient>
<linearGradient id="gold2" x1="0" y1="0" x2="1" y2="1"><stop offset="0" stop-color="#fff0a0"/><stop offset="0.6" stop-color="#f2c422"/><stop offset="1" stop-color="#dca010"/></linearGradient>
<linearGradient id="sgw" x1="1" y1="0" x2="0" y2="1"><stop offset="0" stop-color="#d8ecd4"/><stop offset="1" stop-color="#58b850"/></linearGradient>
<linearGradient id="blu" x1="0" y1="0" x2="0" y2="1"><stop offset="0" stop-color="#35b0ff"/><stop offset="1" stop-color="#0a7ae0"/></linearGradient>
<linearGradient id="cloud" x1="0" y1="0" x2="0" y2="1"><stop offset="0" stop-color="#ffffff"/><stop offset="1" stop-color="#c9d3e6"/></linearGradient>
<linearGradient id="hat" x1="0" y1="0" x2="0" y2="1"><stop offset="0" stop-color="#8fd0f0"/><stop offset="1" stop-color="#3a98d0"/></linearGradient>
<linearGradient id="yel" x1="0" y1="0" x2="1" y2="1"><stop offset="0" stop-color="#fff0a0"/><stop offset="1" stop-color="#f0c020"/></linearGradient>
<linearGradient id="lens" x1="0" y1="0" x2="0" y2="1"><stop offset="0" stop-color="#c8ecfb"/><stop offset="1" stop-color="#eefaff"/></linearGradient>
<linearGradient id="grn" x1="0" y1="0" x2="0" y2="1"><stop offset="0" stop-color="#35a818"/><stop offset="1" stop-color="#1f8a0c"/></linearGradient>
<linearGradient id="blu2" x1="0" y1="0" x2="0" y2="1"><stop offset="0" stop-color="#0a34b8"/><stop offset="1" stop-color="#2a62e0"/></linearGradient>
<radialGradient id="plus" cx="0.4" cy="0.4" r="0.7"><stop offset="0" stop-color="#60ff70"/><stop offset="1" stop-color="#08c020"/></radialGradient>
<linearGradient id="redb" x1="0" y1="0" x2="0" y2="1"><stop offset="0" stop-color="#ea5a3c"/><stop offset="1" stop-color="#d22810"/></linearGradient>
<linearGradient id="clk" x1="0" y1="0" x2="0" y2="1"><stop offset="0" stop-color="#2a8ae8"/><stop offset="1" stop-color="#0a4aa8"/></linearGradient>
<linearGradient id="cnd" x1="0" y1="0" x2="1" y2="0"><stop offset="0" stop-color="#40e060"/><stop offset="0.5" stop-color="#90ffa0"/><stop offset="1" stop-color="#30d050"/></linearGradient>
</defs>
<rect x="0" y="7" width="1" height="14" fill="#d8d8d8" />
<rect x="0" y="15" width="4" height="4" fill="#22c822" shape-rendering="crispEdges"/>
<rect x="0" y="15" width="4" height="1" fill="#0c900c" shape-rendering="crispEdges"/>
<rect x="0" y="18" width="4" height="1" fill="#0c900c" shape-rendering="crispEdges"/>
<rect x="3" y="15" width="1" height="4" fill="#0c900c" shape-rendering="crispEdges"/>
<text x="6.6" y="16.2" class="cj" font-size="12.6" textLength="36.8">新订单</text>
<path d="M60.9 5.9 L69.8 12.5 L70.8 14.4 L62.9 20.5 L55.3 15.5 Q58.8 11.2 60.9 5.9 Z" fill="url(#gold)" stroke="#a8700c" stroke-width="0.9" stroke-linejoin="round"/>
<path d="M61.3 7.2 L68.9 12.8 L62.6 17.6 L57.2 14.3 Q59.8 11 61.3 7.2 Z" fill="url(#gold2)"/>
<path d="M55.7 15.7 L62.9 20.1" fill="none" stroke="#b47c10" stroke-width="1.5"/>
<path d="M63.4 19.4 L70.3 14.2" fill="none" stroke="#f2dfa6" stroke-width="1.1"/>
<path d="M85 6.3 L91 5.3 L96.2 6.6 L88 8 Z" fill="#6cc6ff"/>
<path d="M85 6.3 L88 8 L88 15 L85 13 Z" fill="#0a78e4"/>
<path d="M88 8 L96.2 6.6 L96.2 15 L88 15 Z" fill="#2aa2ff"/>
<path d="M90.2 10 L95.4 9.2 L95.4 10.4 L90.2 11.2 Z" fill="#e8f6ff"/>
<path d="M90.2 12.4 L95.4 11.8 L95.4 12.6 L90.2 13.2 Z" fill="#9fd6ff"/>
<path d="M86.5 20.4 C83 20.4 82.7 16.4 85.9 15.9 C86.1 13.4 89.8 12.7 91.2 14.7 C92.9 13.3 96 14 96.1 16.1 C99.6 16.1 99.7 20.4 96.4 20.4 Z" fill="url(#cloud)" stroke="#5876b2" stroke-width="1"/>
<circle cx="119.2" cy="12.8" r="7.6" fill="#eef3f6"/>
<path d="M119.8 13 L119.8 20.4 A7.6 7.6 0 0 0 126.8 12.8 Z" fill="url(#sgw)"/>
<g fill="none" stroke-width="1.1"><path d="M119.2 5.2 A7.6 7.6 0 0 0 119.2 20.4" stroke="#3f6fd8" stroke-opacity="0.75"/><path d="M119.2 5.2 A7.6 7.6 0 0 1 126.8 12.8" stroke="#7fb87a" stroke-opacity="0.8"/><path d="M119.2 7.6 A5.2 5.2 0 0 0 119.2 18" stroke="#5f8ae0" stroke-opacity="0.6"/><path d="M119.2 7.6 A5.2 5.2 0 0 1 124.4 12.8" stroke="#8fc090" stroke-opacity="0.7"/><path d="M119.2 10 A2.8 2.8 0 0 0 119.2 15.6" stroke="#7fa0e8" stroke-opacity="0.5"/></g>
<circle cx="119" cy="12.5" r="1.8" fill="#2a5ad0"/>
<rect x="118.9" y="13.2" width="1.3" height="7.6" fill="#18a018" />
<path d="M138.2 12 L154 11.8 L146.4 20.6 Z" fill="url(#yel)" stroke="#d8a818" stroke-width="0.8" stroke-linejoin="round"/>
<ellipse cx="146.1" cy="10.3" rx="8.1" ry="2.6" fill="url(#hat)" stroke="#2a88c0" stroke-width="0.7"/>
<ellipse cx="146" cy="8.2" rx="3.7" ry="3.1" fill="#7cc4ec" stroke="#3a90c8" stroke-width="0.5"/>
<path d="M139 10.6 C142 12.6 150 12.6 153.2 10.4" fill="none" stroke="#2a80b8" stroke-width="0.8"/>
<circle cx="150.4" cy="16.8" r="4" fill="#e01808" stroke="#b81000" stroke-width="0.6"/>
<rect x="148.8" y="15.3" width="3.1" height="3.1" fill="#fff" />
<text x="157.7" y="16.2" class="cj" font-size="12.6" textLength="50.2">自动交易</text>
<rect x="214" y="0" width="1" height="25" fill="#a0a0a0" shape-rendering="crispEdges"/>
<rect x="215" y="0" width="1" height="25" fill="#fff" shape-rendering="crispEdges"/>
<g shape-rendering="crispEdges">
<rect x="218" y="3" width="3" height="1" fill="#a0a0a0" />
<rect x="218" y="5" width="3" height="1" fill="#a0a0a0" />
<rect x="218" y="7" width="3" height="1" fill="#a0a0a0" />
<rect x="218" y="9" width="3" height="1" fill="#a0a0a0" />
<rect x="218" y="11" width="3" height="1" fill="#a0a0a0" />
<rect x="218" y="13" width="3" height="1" fill="#a0a0a0" />
<rect x="218" y="15" width="3" height="1" fill="#a0a0a0" />
<rect x="218" y="17" width="3" height="1" fill="#a0a0a0" />
<rect x="218" y="19" width="3" height="1" fill="#a0a0a0" />
<rect x="218" y="21" width="3" height="1" fill="#a0a0a0" />
</g>
<g shape-rendering="crispEdges" fill="#555"><rect x="232" y="7" width="1" height="14" fill="#555" /><rect x="231" y="8" width="3" height="1" fill="#555" /><rect x="230" y="18" width="14" height="1" fill="#555" /><rect x="242" y="17" width="1" height="3" fill="#555" /></g>
<g shape-rendering="crispEdges"><rect x="238" y="8" width="1" height="9" fill="#008000" /><rect x="239" y="9" width="2" height="1" fill="#008000" /><rect x="236" y="15" width="2" height="1" fill="#008000" /></g>
<g shape-rendering="crispEdges">
<rect x="252" y="1" width="26" height="23" fill="#fff" />
<rect x="252" y="1" width="25" height="22" fill="#a0a0a0" />
<rect x="253" y="2" width="24" height="21" fill="url(#dith)" />
</g>
<g shape-rendering="crispEdges" fill="#555"><rect x="260" y="7" width="1" height="14" fill="#555" /><rect x="259" y="8" width="3" height="1" fill="#555" /><rect x="258" y="18" width="14" height="1" fill="#555" /><rect x="270" y="17" width="1" height="3" fill="#555" /></g>
<g shape-rendering="crispEdges"><rect x="266" y="5" width="1" height="12" fill="#008000" /><rect x="264" y="7" width="5" height="8" fill="#008000" /><rect x="265" y="8" width="3" height="6" fill="url(#cnd)" /></g>
<g shape-rendering="crispEdges" fill="#555"><rect x="288" y="7" width="1" height="14" fill="#555" /><rect x="287" y="8" width="3" height="1" fill="#555" /><rect x="286" y="18" width="14" height="1" fill="#555" /><rect x="298" y="17" width="1" height="3" fill="#555" /></g>
<path d="M287.2 15.8 C289.5 14.5 291 10.4 293.2 10.4 C295.2 10.4 296.5 13.6 299.2 14.2" fill="none" stroke="#18901c" stroke-width="1.2"/>
<rect x="309" y="2" width="1" height="21" fill="#a0a0a0" shape-rendering="crispEdges"/>
<path d="M327.6 14 L329.4 12.6 L334 18.4 L331.8 20.2 Z" fill="#eccb28" stroke="#b88a10" stroke-width="0.7"/>
<circle cx="324" cy="11" r="5.6" fill="url(#lens)" stroke="#3a80c8" stroke-width="1.2"/>
<rect x="320.6" y="10.1" width="6.8" height="1.9" fill="#4a8fb4" />
<rect x="323.05" y="7.6" width="1.9" height="6.8" fill="#4a8fb4" />
<path d="M355.6 14 L357.4 12.6 L362 18.4 L359.8 20.2 Z" fill="#eccb28" stroke="#b88a10" stroke-width="0.7"/>
<circle cx="352" cy="11" r="5.6" fill="url(#lens)" stroke="#3a80c8" stroke-width="1.2"/>
<rect x="348.6" y="10.1" width="6.8" height="1.9" fill="#4a8fb4" />
<rect x="374" y="5" width="8" height="8" fill="url(#grn)" rx="0.8"/>
<rect x="375" y="6" width="1" height="1" fill="#cfe8ff" />
<rect x="375" y="8" width="6" height="4" fill="#fff" />
<rect x="376" y="9" width="4" height="1" fill="#9fe08a" />
<rect x="376" y="11" width="4" height="1" fill="url(#grn)" />
<rect x="382" y="5" width="8" height="8" fill="url(#blu2)" rx="0.8"/>
<rect x="383" y="6" width="1" height="1" fill="#cfe8ff" />
<rect x="383" y="8" width="6" height="4" fill="#fff" />
<rect x="384" y="9" width="4" height="1" fill="#9ab8ff" />
<rect x="384" y="11" width="4" height="1" fill="url(#blu2)" />
<rect x="374" y="13" width="8" height="8" fill="url(#blu2)" rx="0.8"/>
<rect x="375" y="14" width="1" height="1" fill="#cfe8ff" />
<rect x="375" y="16" width="6" height="4" fill="#fff" />
<rect x="376" y="17" width="4" height="1" fill="#9ab8ff" />
<rect x="376" y="19" width="4" height="1" fill="url(#blu2)" />
<rect x="382" y="13" width="8" height="8" fill="url(#grn)" rx="0.8"/>
<rect x="383" y="14" width="1" height="1" fill="#cfe8ff" />
<rect x="383" y="16" width="6" height="4" fill="#fff" />
<rect x="384" y="17" width="4" height="1" fill="#9fe08a" />
<rect x="384" y="19" width="4" height="1" fill="url(#grn)" />
<rect x="399" y="2" width="1" height="21" fill="#a0a0a0" shape-rendering="crispEdges"/>
<g shape-rendering="crispEdges">
<rect x="404" y="1" width="26" height="23" fill="#fff" />
<rect x="404" y="1" width="25" height="22" fill="#a0a0a0" />
<rect x="405" y="2" width="24" height="21" fill="url(#dith)" />
</g>
<g shape-rendering="crispEdges" fill="#555"><rect x="412" y="7" width="1" height="14" fill="#555" /><rect x="411" y="8" width="3" height="1" fill="#555" /><rect x="410" y="18" width="14" height="1" fill="#555" /><rect x="422" y="17" width="1" height="3" fill="#555" /></g>
<path d="M417.5 9 L417.5 16.4 L421.6 12.7 Z" fill="#7af090" stroke="#0a9a14" stroke-width="1.1" stroke-linejoin="round"/>
<g shape-rendering="crispEdges">
<rect x="432" y="1" width="26" height="23" fill="#fff" />
<rect x="432" y="1" width="25" height="22" fill="#a0a0a0" />
<rect x="433" y="2" width="24" height="21" fill="url(#dith)" />
</g>
<g shape-rendering="crispEdges" fill="#555"><rect x="440" y="7" width="1" height="14" fill="#555" /><rect x="439" y="8" width="3" height="1" fill="#555" /><rect x="438" y="18" width="14" height="1" fill="#555" /><rect x="450" y="17" width="1" height="3" fill="#555" /></g>
<rect x="446" y="7" width="1" height="10" fill="#1a6a9a" shape-rendering="crispEdges"/>
<path d="M447.3 12.5 L450.3 9.8 L450.3 11.8 L452.6 11.8 L452.6 13.2 L450.3 13.2 L450.3 15.2 Z" fill="#e86010" stroke="#a83808" stroke-width="0.5"/>
<rect x="461" y="2" width="1" height="21" fill="#a0a0a0" shape-rendering="crispEdges"/>
<path d="M471.7 5.8 L479.6 5.8 L482.4 8.6 L482.4 18.4 L471.7 18.4 Z" fill="#fff" stroke="#909090" stroke-width="0.9"/>
<path d="M479.6 5.8 L479.6 8.6 L482.4 8.6" fill="#e0e0e0" stroke="#909090" stroke-width="0.7"/>
<text x="473.4" y="15.5" font-family="Liberation Serif, serif" font-style="italic" font-size="10" fill="#554">f</text>
<path d="M479.2 11.3 L482.9 11.3 L482.9 15.2 L486.8 15.2 L486.8 18.9 L482.9 18.9 L482.9 22.7 L479.2 22.7 L479.2 18.9 L475.3 18.9 L475.3 15.2 L479.2 15.2 Z" fill="url(#plus)" stroke="#0a8a10" stroke-width="0.9"/>
<g shape-rendering="crispEdges"><rect x="493" y="12" width="5" height="1" fill="#000" /><rect x="494" y="13" width="3" height="1" fill="#000" /><rect x="495" y="14" width="1" height="1" fill="#000" /></g>
<circle cx="517" cy="13" r="6.9" fill="#f4f8fc" stroke="url(#clk)" stroke-width="2.1"/>
<path d="M516.6 8.6 L516.6 13.2 L519.8 13.2" fill="none" stroke="#222" stroke-width="1.1"/>
<g fill="#888"><rect x="516.6" y="17" width="1" height="1"/><rect x="512.4" y="12.6" width="1" height="1"/><rect x="520.8" y="12.6" width="1" height="1"/><rect x="513.6" y="9.4" width="1" height="1"/><rect x="519.8" y="9.4" width="1" height="1"/><rect x="513.6" y="16" width="1" height="1"/><rect x="519.8" y="16" width="1" height="1"/></g>
<g shape-rendering="crispEdges"><rect x="532" y="12" width="5" height="1" fill="#000" /><rect x="533" y="13" width="3" height="1" fill="#000" /><rect x="534" y="14" width="1" height="1" fill="#000" /></g>
<rect x="548.5" y="6.5" width="15" height="13" fill="#fff" stroke="#2e6cbc" stroke-width="1" shape-rendering="crispEdges"/>
<rect x="548" y="6" width="16" height="3" fill="#3f86d8" shape-rendering="crispEdges"/>
<rect x="549.5" y="7" width="5" height="1" fill="#bfe0ff" />
<rect x="548" y="14" width="16" height="1" fill="#4a86cc" shape-rendering="crispEdges"/>
<path d="M550 12.3 L552.4 12.3 L553.8 11.3 L555.4 10.3 L557 10.3 L558 11.3 L560 11.3 L561.4 10.3 L562 10.3" fill="none" stroke="#9a1c08" stroke-width="1.4" stroke-dasharray="1.8 0.4"/>
<path d="M551 17.5 L552.4 17.5 L553.8 16.5 L555.4 17.5 L556.6 17.5 L558.8 15.3 L559.8 15.3 L561.8 17.8" fill="none" stroke="#118a11" stroke-width="1.4" stroke-dasharray="1.8 0.4"/>
<g shape-rendering="crispEdges"><rect x="571" y="12" width="5" height="1" fill="#000" /><rect x="572" y="13" width="3" height="1" fill="#000" /><rect x="573" y="14" width="1" height="1" fill="#000" /></g>
<rect x="582" y="0" width="1" height="25" fill="#a0a0a0" shape-rendering="crispEdges"/>
<rect x="583" y="0" width="1" height="25" fill="#fff" shape-rendering="crispEdges"/>
<g shape-rendering="crispEdges">
<rect x="586" y="3" width="3" height="1" fill="#a0a0a0" />
<rect x="586" y="5" width="3" height="1" fill="#a0a0a0" />
<rect x="586" y="7" width="3" height="1" fill="#a0a0a0" />
<rect x="586" y="9" width="3" height="1" fill="#a0a0a0" />
<rect x="586" y="11" width="3" height="1" fill="#a0a0a0" />
<rect x="586" y="13" width="3" height="1" fill="#a0a0a0" />
<rect x="586" y="15" width="3" height="1" fill="#a0a0a0" />
<rect x="586" y="17" width="3" height="1" fill="#a0a0a0" />
<rect x="586" y="19" width="3" height="1" fill="#a0a0a0" />
<rect x="586" y="21" width="3" height="1" fill="#a0a0a0" />
</g>
<g shape-rendering="crispEdges">
<rect x="592" y="1" width="26" height="23" fill="#fff" />
<rect x="592" y="1" width="25" height="22" fill="#a0a0a0" />
<rect x="593" y="2" width="24" height="21" fill="url(#dith)" />
</g>
<path d="M600.1 5.6 L600.1 17 L602.6 14.8 L605 20.2 L606.9 19.3 L604.5 14 L608.1 13.7 Z" fill="#505050"/>
<g shape-rendering="crispEdges"><rect x="632" y="6" width="1" height="6" fill="#505050" /><rect x="632" y="15" width="1" height="6" fill="#505050" /><rect x="625" y="13" width="6" height="1" fill="#505050" /><rect x="634" y="13" width="6" height="1" fill="#505050" /><rect x="632" y="13" width="1" height="1" fill="#505050" /></g>
<rect x="649" y="2" width="1" height="21" fill="#a0a0a0" shape-rendering="crispEdges"/>
<rect x="666" y="7" width="1" height="13" fill="#505050" shape-rendering="crispEdges"/>
<rect x="689" y="13" width="12" height="1" fill="#505050" shape-rendering="crispEdges"/>
<line x1="717" y1="20.2" x2="729.2" y2="7.6" stroke="#505050" stroke-width="1.1"/>
<g stroke="#666" stroke-width="0.9" fill="none"><line x1="742.5" y1="14.6" x2="750.8" y2="7"/><line x1="747.9" y1="19.8" x2="757.3" y2="11.2"/></g>
<polyline points="744.8,19.6 746,12.6 748.3,16.2 749.6,10 752,13.6 754.4,5.6 755.6,12" fill="none" stroke="#444" stroke-width="1.5" stroke-linejoin="round"/>
<text x="753.6" y="22" font-family="Liberation Sans, sans-serif" font-weight="bold" font-size="6.6" fill="#333">E</text>
<line x1="772" y1="6.5" x2="786" y2="6.5" stroke="#505050" stroke-width="1" stroke-dasharray="1 1" shape-rendering="crispEdges"/>
<line x1="772" y1="9.5" x2="786" y2="9.5" stroke="#505050" stroke-width="1" stroke-dasharray="1 1" shape-rendering="crispEdges"/>
<line x1="772" y1="13.5" x2="786" y2="13.5" stroke="#505050" stroke-width="1" stroke-dasharray="1 1" shape-rendering="crispEdges"/>
<line x1="772" y1="17.5" x2="781" y2="17.5" stroke="#505050" stroke-width="1" stroke-dasharray="1 1" shape-rendering="crispEdges"/>
<text x="781.6" y="22" font-family="Liberation Sans, sans-serif" font-weight="bold" font-size="6.6" fill="#333">F</text>
<text x="802.7" y="18" font-family="Liberation Sans, sans-serif" font-size="12.8" fill="#444" stroke="#444" stroke-width="0.5" textLength="8" lengthAdjust="spacingAndGlyphs">A</text>
<rect x="829.5" y="7.5" width="11" height="12" fill="none" stroke="#505050" stroke-width="1" stroke-dasharray="1 1" shape-rendering="crispEdges"/>
<rect x="828.6" y="6.4" width="2" height="1.3" fill="#505050" />
<text x="830.8" y="17.8" font-family="Liberation Sans, sans-serif" font-weight="bold" font-size="11.5" fill="#555" textLength="8.4" lengthAdjust="spacingAndGlyphs">T</text>
<path d="M859.6 6.6 L863.4 10.4 L861.5 11.9 L857.7 11.9 L855.9 10.4 Z" fill="#505050"/>
<path d="M866.6 20.2 L862.9 16.5 L864.6 15 L868.6 15 L870.3 16.5 Z" fill="#505050"/>
<path d="M858.2 14.2 L860.6 16.6 L864.9 11.1" fill="none" stroke="#505050" stroke-width="1.4"/>
<g shape-rendering="crispEdges"><rect x="877" y="12" width="5" height="1" fill="#000" /><rect x="878" y="13" width="3" height="1" fill="#000" /><rect x="879" y="14" width="1" height="1" fill="#000" /></g>
<rect x="888" y="0" width="1" height="25" fill="#a0a0a0" shape-rendering="crispEdges"/>
<rect x="889" y="0" width="1" height="25" fill="#fff" shape-rendering="crispEdges"/>
<g shape-rendering="crispEdges">
<rect x="892" y="3" width="3" height="1" fill="#a0a0a0" />
<rect x="892" y="5" width="3" height="1" fill="#a0a0a0" />
<rect x="892" y="7" width="3" height="1" fill="#a0a0a0" />
<rect x="892" y="9" width="3" height="1" fill="#a0a0a0" />
<rect x="892" y="11" width="3" height="1" fill="#a0a0a0" />
<rect x="892" y="13" width="3" height="1" fill="#a0a0a0" />
<rect x="892" y="15" width="3" height="1" fill="#a0a0a0" />
<rect x="892" y="17" width="3" height="1" fill="#a0a0a0" />
<rect x="892" y="19" width="3" height="1" fill="#a0a0a0" />
<rect x="892" y="21" width="3" height="1" fill="#a0a0a0" />
</g>
<g shape-rendering="crispEdges">
<rect x="1038" y="1" width="26" height="23" fill="#fff" />
<rect x="1038" y="1" width="25" height="22" fill="#a0a0a0" />
<rect x="1039" y="2" width="24" height="21" fill="url(#dith)" />
</g>
<text class="tf" x="903.5" y="17" textLength="12.8" lengthAdjust="spacingAndGlyphs">M1</text>
<text class="tf" x="931.6" y="17" textLength="12.8" lengthAdjust="spacingAndGlyphs">M5</text>
<text class="tf" x="957.6" y="17" textLength="17.8" lengthAdjust="spacingAndGlyphs">M15</text>
<text class="tf" x="985.5" y="17" textLength="17.8" lengthAdjust="spacingAndGlyphs">M30</text>
<text class="tf" x="1016.5" y="17" textLength="11.8" lengthAdjust="spacingAndGlyphs">H1</text>
<text class="tf" x="1043.6" y="17" textLength="12.4" lengthAdjust="spacingAndGlyphs">H4</text>
<text class="tf" x="1072.3" y="17" textLength="12" lengthAdjust="spacingAndGlyphs">D1</text>
<text class="tf" x="1100.2" y="17" textLength="14.2" lengthAdjust="spacingAndGlyphs">W1</text>
<text class="tf" x="1126.6" y="17" textLength="14.9" lengthAdjust="spacingAndGlyphs">MN</text>
<rect x="1149" y="0" width="1" height="25" fill="#a0a0a0" shape-rendering="crispEdges"/>
<rect x="1150" y="0" width="1" height="25" fill="#fff" shape-rendering="crispEdges"/>
<line x1="1616" y1="13.8" x2="1612.2" y2="17.8" stroke="#2a5fd0" stroke-width="2.6" stroke-linecap="round"/>
<circle cx="1619.6" cy="10.3" r="3.9" fill="#f4f6ff" stroke="#2a5fd0" stroke-width="1.4"/>
<path d="M1636.6 15 C1636.6 11.5 1640 10.2 1643 10.2 C1647 10.2 1648.6 12.6 1648.6 15 C1648.6 18 1645.5 19.4 1642 19.4 L1640.6 19.4 L1639.2 21.6 L1639.4 19 C1637.6 18.2 1636.6 16.8 1636.6 15 Z" fill="#e6e8f0" stroke="#a8a8a8" stroke-width="0.9"/>
<circle cx="1650.6" cy="10.4" r="8.3" fill="url(#redb)"/>
<text x="1646.6" y="15" font-family="Liberation Serif, serif" font-size="13" fill="#fff" font-weight="bold" textLength="6" lengthAdjust="spacingAndGlyphs">1</text>
</svg>
</body></html>
